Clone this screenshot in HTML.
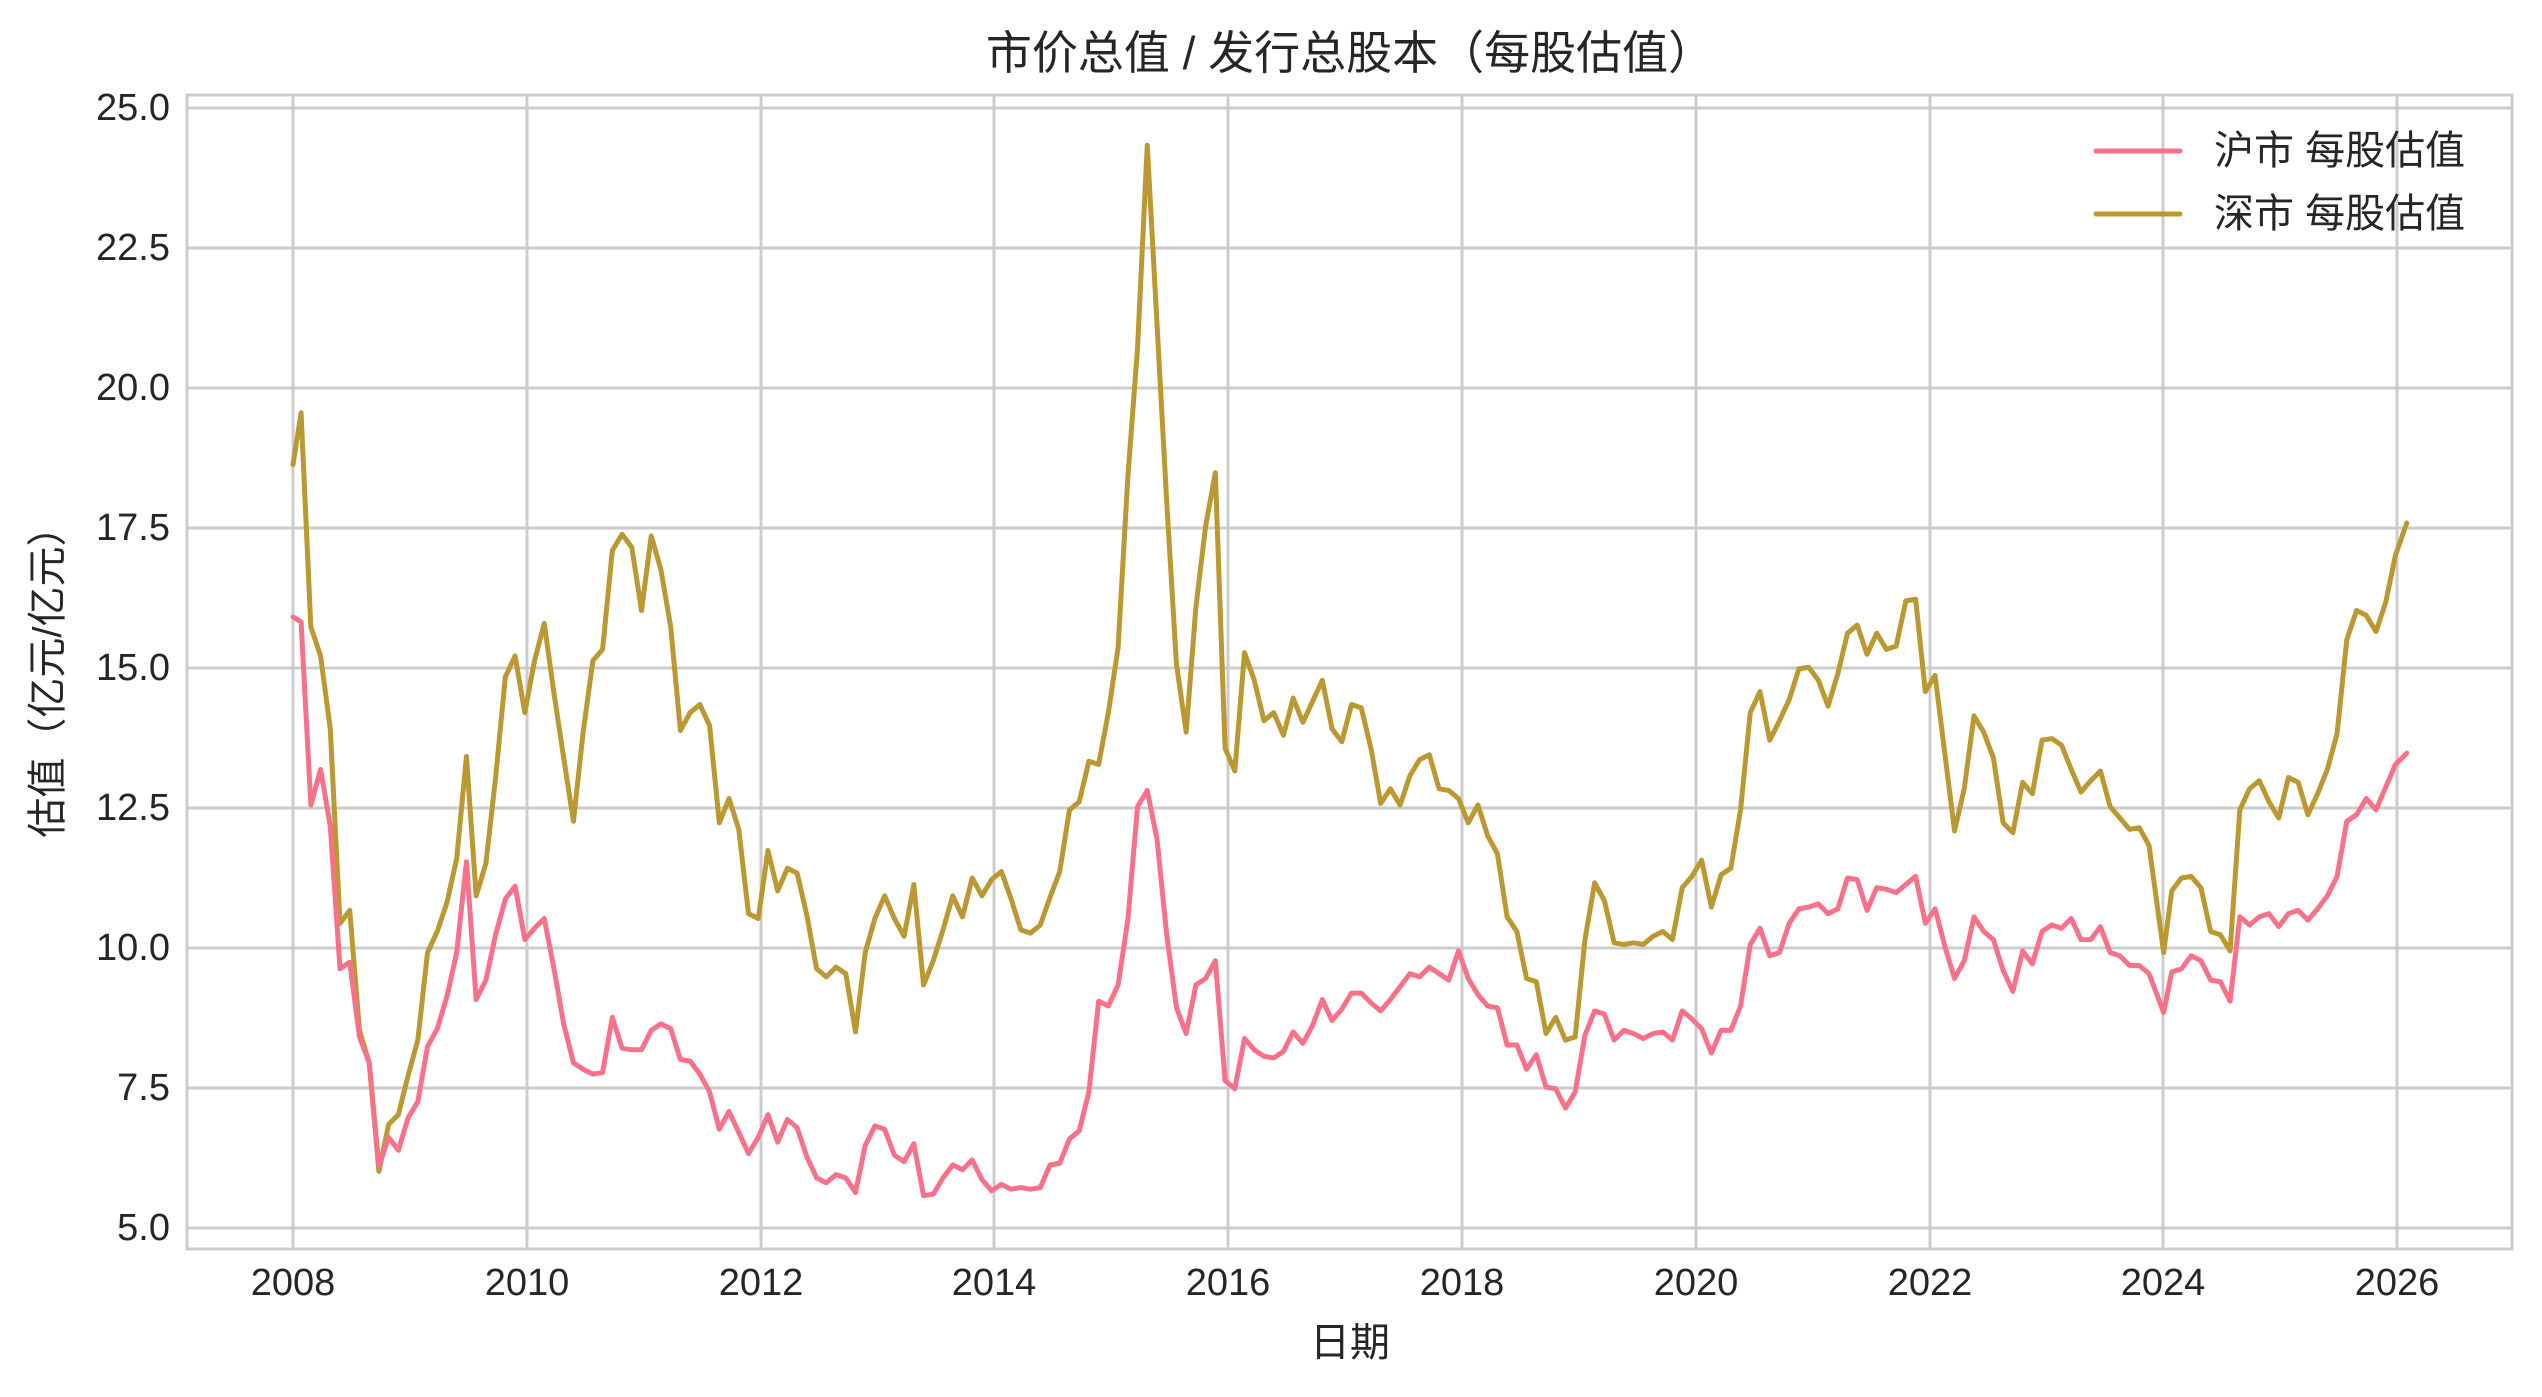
<!DOCTYPE html>
<html><head><meta charset="utf-8"><style>
body{margin:0;background:#fff;}
svg{display:block;font-family:"Liberation Sans","Noto Sans CJK SC",sans-serif;}
</style></head><body>
<svg width="2542" height="1397" viewBox="0 0 2542 1397" xmlns="http://www.w3.org/2000/svg">
<rect width="2542" height="1397" fill="#fff"/>
<g stroke="#cccccc" stroke-width="3">
<line x1="293" y1="95" x2="293" y2="1249"/><line x1="527" y1="95" x2="527" y2="1249"/><line x1="761" y1="95" x2="761" y2="1249"/><line x1="994" y1="95" x2="994" y2="1249"/><line x1="1228" y1="95" x2="1228" y2="1249"/><line x1="1462" y1="95" x2="1462" y2="1249"/><line x1="1696" y1="95" x2="1696" y2="1249"/><line x1="1930" y1="95" x2="1930" y2="1249"/><line x1="2163" y1="95" x2="2163" y2="1249"/><line x1="2397" y1="95" x2="2397" y2="1249"/>
<line x1="187" y1="108" x2="2512" y2="108"/><line x1="187" y1="248" x2="2512" y2="248"/><line x1="187" y1="388" x2="2512" y2="388"/><line x1="187" y1="528" x2="2512" y2="528"/><line x1="187" y1="668" x2="2512" y2="668"/><line x1="187" y1="808" x2="2512" y2="808"/><line x1="187" y1="948" x2="2512" y2="948"/><line x1="187" y1="1088" x2="2512" y2="1088"/><line x1="187" y1="1228" x2="2512" y2="1228"/>
<rect x="187" y="95" width="2325" height="1154" fill="none"/>
</g>
<g fill="#262626" font-size="38" text-anchor="end" dominant-baseline="central">
<text x="170" y="108">25.0</text><text x="170" y="248">22.5</text><text x="170" y="388">20.0</text><text x="170" y="528">17.5</text><text x="170" y="668">15.0</text><text x="170" y="808">12.5</text><text x="170" y="948">10.0</text><text x="170" y="1088">7.5</text><text x="170" y="1228">5.0</text>
</g>
<g fill="#262626" font-size="38" text-anchor="middle" dominant-baseline="central">
<text x="293" y="1283">2008</text><text x="527" y="1283">2010</text><text x="761" y="1283">2012</text><text x="994" y="1283">2014</text><text x="1228" y="1283">2016</text><text x="1462" y="1283">2018</text><text x="1696" y="1283">2020</text><text x="1930" y="1283">2022</text><text x="2163" y="1283">2024</text><text x="2397" y="1283">2026</text>
<text x="1350" y="1343" font-size="40">日期</text>
<text x="1350" y="53" font-size="46">市价总值 / 发行总股本（每股估值）</text>
<text transform="translate(48,672) rotate(-90)" font-size="40">估值（亿元/亿元）</text>
</g>
<g transform="translate(293,108) scale(1.621) translate(-181,-67)" fill="none" stroke-linejoin="round" stroke-linecap="round">
<polyline vector-effect="non-scaling-stroke" stroke="#bb9832" stroke-width="5" points="181,287 186,255 192,387 198,405 204,450 210,570 216,562 222,636 228,656 234,723 240,694 246,688 252,664 258,642 264,588 270,575 276,557 282,530 288,467 294,553 300,533 306,480 312,418 318,405 324,440 330,408 336,385 342,428 348,468 354,507 360,452 366,408 372,401 378,340 384,330 390,338 396,377 402,331 408,352 414,387 420,451 426,440 432,435 438,448 444,508 450,493 456,512 462,564 468,567 474,525 480,550 486,536 492,539 498,565 504,598 510,603 516,597 522,601 528,637 534,588 540,567 546,553 552,567 558,578 564,546 570,608 576,593 582,574 588,553 594,566 600,542 606,553 612,543 618,538 624,555 630,574 636,576 642,571 648,554 654,538 660,500 666,495 672,470 678,472 684,440 690,400 696,295 702,215 708,90 714,200 720,310 726,410 732,452 738,375 744,325 750,292 756,462 762,476 768,403 774,420 780,445 786,440 792,454 798,431 804,446 810,433 816,420 822,450 828,458 834,435 840,437 846,462 852,496 858,487 864,497 870,479 876,469 882,466 888,487 894,488 900,493 906,508 912,497 918,516 924,527 930,566 936,575 942,604 948,606 954,638 960,628 966,642 972,640 978,580 984,545 990,556 996,582 1002,583 1008,582 1014,583 1020,578 1026,575 1032,580 1038,548 1044,541 1050,531 1056,560 1062,540 1068,536 1074,500 1080,440 1086,427 1092,457 1098,445 1104,432 1110,413 1116,412 1122,420 1128,436 1134,416 1140,391 1146,386 1152,404 1158,391 1164,401 1170,399 1176,371 1182,370 1188,427 1194,417 1200,465 1206,513 1212,487 1218,442 1224,452 1230,468 1236,508 1242,514 1248,483 1254,490 1260,457 1266,456 1272,460 1278,475 1284,489 1290,482 1296,476 1302,498 1308,505 1314,512 1320,511 1326,522 1335,588 1340,550 1346,542 1352,541 1358,548 1364,575 1370,577 1376,587 1382,500 1388,487 1394,482 1400,495 1406,505 1412,480 1418,483 1424,503 1430,490 1436,475 1442,453 1448,395 1454,377 1460,380 1466,390 1472,372 1478,343 1485,323"/>
<polyline vector-effect="non-scaling-stroke" stroke="#f77189" stroke-width="5" points="181,381 186,384 192,497 198,475 204,510 210,598 216,594 222,640 228,656 234,720 240,702 246,710 252,690 258,680 264,646 270,635 276,615 282,588 288,532 294,617 300,605 306,577 312,555 318,547 324,580 330,573 336,567 342,598 348,632 354,656 360,660 366,663 372,662 378,628 384,647 390,648 396,648 402,636 408,632 414,635 420,654 426,655 432,663 438,674 444,697 450,686 456,699 462,712 468,702 474,688 480,705 486,691 492,696 498,714 504,727 510,730 516,725 522,727 528,736 534,707 540,695 546,697 552,713 558,717 564,706 570,738 576,737 582,727 588,719 594,722 600,716 606,728 612,735 618,731 624,734 630,733 636,734 642,733 648,719 654,718 660,703 666,698 672,674 678,618 684,621 690,608 696,568 702,498 708,488 714,518 720,577 726,622 732,638 738,608 744,604 750,593 756,667 762,672 768,641 774,648 780,652 786,653 792,649 798,637 804,644 810,633 816,617 822,630 828,623 834,613 840,613 846,619 852,624 858,617 864,609 870,601 876,603 882,597 888,601 894,605 900,587 906,604 912,614 918,621 924,622 930,645 936,645 942,660 948,651 954,671 960,672 966,684 972,674 978,639 984,624 990,626 996,642 1002,636 1008,638 1014,641 1020,638 1026,637 1032,642 1038,624 1044,629 1050,635 1056,650 1062,636 1068,636 1074,621 1080,583 1086,573 1092,590 1098,588 1104,570 1110,561 1116,560 1122,558 1128,564 1134,561 1140,542 1146,543 1152,562 1158,548 1164,549 1170,551 1176,546 1182,541 1188,570 1194,561 1200,584 1206,604 1212,593 1218,566 1224,575 1230,580 1236,599 1242,612 1248,587 1254,595 1260,575 1266,571 1272,573 1278,567 1284,580 1290,580 1296,572 1302,588 1308,590 1314,596 1320,596 1326,601 1335,625 1340,600 1346,598 1352,590 1358,593 1364,605 1370,606 1376,618 1382,566 1388,571 1394,566 1400,564 1406,572 1412,564 1418,562 1424,568 1430,561 1436,553 1442,541 1448,507 1454,503 1460,493 1466,500 1472,486 1478,472 1485,465"/>
</g>
<line x1="2096" y1="151" x2="2180" y2="151" stroke="#f77189" stroke-width="5" stroke-linecap="round"/>
<line x1="2096" y1="214" x2="2180" y2="214" stroke="#bb9832" stroke-width="5" stroke-linecap="round"/>
<g fill="#262626" font-size="40" dominant-baseline="central">
<text x="2214" y="151">沪市 每股估值</text>
<text x="2214" y="214">深市 每股估值</text>
</g>
</svg>
</body></html>
